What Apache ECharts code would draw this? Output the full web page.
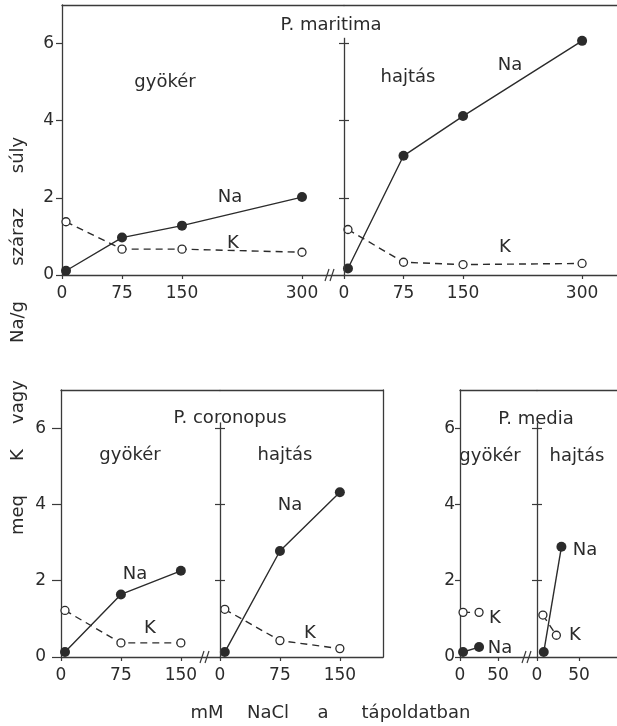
<!DOCTYPE html>
<html>
<head>
<meta charset="utf-8">
<script src="https://cdn.jsdelivr.net/npm/echarts@6/dist/echarts.min.js"></script>
<style>
  html, body { margin: 0; padding: 0; background: #fff; }
  #chart { width: 617px; height: 726px; }
</style>
</head>
<body>
<div id="chart"></div>
<script>
// P. maritima (0 - 300 mM NaCl)
var mariRootX = [5, 75, 150, 300];
var mariRootNa = [0.11, 0.97, 1.28, 2.02];
var mariRootK = [1.38, 0.67, 0.67, 0.59];
var mariShootX = [5, 75, 150, 300];
var mariShootNa = [0.17, 3.09, 4.12, 6.07];
var mariShootK = [1.18, 0.33, 0.27, 0.30];

// P. coronopus (0 - 150 mM)
var coroRootX = [5, 75, 150];
var coroRootNa = [0.13, 1.64, 2.26];
var coroRootK = [1.22, 0.37, 0.37];
var coroShootX = [6, 75, 150];
var coroShootNa = [0.13, 2.78, 4.32];
var coroShootK = [1.25, 0.43, 0.22];

// P. media (0 - 25 mM)
var mediaRootX = [4, 25];
var mediaRootNa = [0.13, 0.26];
var mediaRootK = [1.17, 1.17];
var mediaShootNaX = [8, 29];
var mediaShootNa = [0.13, 2.89];
var mediaShootKX = [7, 23];
var mediaShootK = [1.1, 0.57];

var mariTicks = [0, 75, 150, 300];
var coroTicks = [0, 75, 150];
var mediaTicks = [0, 50];
var yTicks = [0, 2, 4, 6];
var innerTicks = [2, 4, 6];

var ink = '#2b2b2b';
var axisInk = '#3a3a3a';
var font = 'DejaVu Sans';

function pairs(xs, ys) {
    var out = [];
    for (var i = 0; i < xs.length; i++) out.push([xs[i], ys[i]]);
    return out;
}

function bottomX(gi, max, ticks) {
    return {
        type: 'value', gridIndex: gi, position: 'bottom', min: 0, max: max,
        axisLine: {show: true, onZero: false, lineStyle: {color: axisInk, width: 1.3}},
        axisTick: {show: true, length: 4, customValues: ticks, lineStyle: {color: axisInk, width: 1.2}},
        axisLabel: {customValues: ticks, margin: 10, color: ink, fontSize: 17, fontFamily: font},
        splitLine: {show: false}
    };
}
function topX(gi, max) {
    return {
        type: 'value', gridIndex: gi, position: 'top', min: 0, max: max,
        axisLine: {show: true, onZero: false, lineStyle: {color: axisInk, width: 1.3}},
        axisTick: {show: false}, axisLabel: {show: false}, splitLine: {show: false}
    };
}
function leftY(gi, tickLen, margin) {
    return {
        type: 'value', gridIndex: gi, position: 'left', min: 0, max: 7,
        axisLine: {show: true, onZero: false, lineStyle: {color: axisInk, width: 1.3}},
        axisTick: {show: true, length: tickLen, customValues: yTicks, lineStyle: {color: axisInk, width: 1.2}},
        axisLabel: {customValues: yTicks, margin: margin, color: ink, fontSize: 17, fontFamily: font},
        splitLine: {show: false}
    };
}
function innerY(gi, pos) {
    return {
        type: 'value', gridIndex: gi, position: pos, min: 0, max: 7,
        axisLine: {show: false, onZero: false},
        axisTick: {show: true, length: 5, customValues: innerTicks, lineStyle: {color: axisInk, width: 1.2}},
        axisLabel: {show: false}, splitLine: {show: false}
    };
}
function rightY(gi) {
    return {
        type: 'value', gridIndex: gi, position: 'right', min: 0, max: 7,
        axisLine: {show: true, onZero: false, lineStyle: {color: axisInk, width: 1.3}},
        axisTick: {show: false}, axisLabel: {show: false}, splitLine: {show: false}
    };
}

function naSeries(gi, yi, xs, ys, withAxis) {
    var s = {
        type: 'line', xAxisIndex: gi * 2, yAxisIndex: yi, z: 4,
        data: pairs(xs, ys),
        symbol: 'circle', symbolSize: 10,
        itemStyle: {color: ink},
        lineStyle: {color: ink, width: 1.4},
        emphasis: {disabled: true}
    };
    if (withAxis) {
        // inner y axis drawn only from 0 up to just above 6
        s.markLine = {
            silent: true, symbol: 'none', label: {show: false},
            lineStyle: {type: 'solid', color: axisInk, width: 1.3},
            emphasis: {disabled: true},
            data: [[{coord: [0, 0]}, {coord: [0, 6.15]}]]
        };
    }
    return s;
}
function kSeries(gi, yi, xs, ys) {
    return {
        type: 'line', xAxisIndex: gi * 2, yAxisIndex: yi, z: 3,
        data: pairs(xs, ys),
        symbol: 'circle', symbolSize: 8,
        itemStyle: {color: '#fff', borderColor: ink, borderWidth: 1.3},
        lineStyle: {color: ink, width: 1.4, type: [7, 5]},
        emphasis: {disabled: true}
    };
}

function label(txt, x, y, size) {
    return {
        type: 'text', x: x, y: y, silent: true,
        style: {text: txt, align: 'center', verticalAlign: 'middle', fill: ink,
            fontSize: size || 18, fontFamily: font}
    };
}
function vlabel(txt, x, y) {
    return {
        type: 'text', x: x, y: y, rotation: Math.PI / 2, silent: true,
        style: {text: txt, align: 'center', verticalAlign: 'middle', fill: ink,
            fontSize: 18, fontFamily: font}
    };
}
function brk(x, y) {
    return {
        type: 'group', x: x, y: y, silent: true,
        children: [
            {type: 'line', shape: {x1: -6, y1: 6, x2: -2, y2: -6}, style: {stroke: axisInk, lineWidth: 1.2}},
            {type: 'line', shape: {x1: -1, y1: 6, x2: 3, y2: -6}, style: {stroke: axisInk, lineWidth: 1.2}}
        ]
    };
}

var chart = echarts.init(document.getElementById('chart'));

chart.setOption({
    backgroundColor: '#fff',
    animation: false,
    grid: [
        {left: 62, top: 5, width: 282, height: 270},
        {left: 344, top: 5, width: 273, height: 270},
        {left: 61, top: 390, width: 159, height: 267},
        {left: 220, top: 390, width: 163, height: 267},
        {left: 460, top: 390, width: 77, height: 267},
        {left: 537, top: 390, width: 80, height: 267}
    ],
    xAxis: [
        bottomX(0, 352.5, mariTicks), topX(0, 352.5),
        bottomX(1, 344, mariTicks), topX(1, 344),
        bottomX(2, 199, coroTicks), topX(2, 199),
        bottomX(3, 204, coroTicks), topX(3, 204),
        bottomX(4, 101, mediaTicks), topX(4, 101),
        bottomX(5, 95, mediaTicks), topX(5, 95)
    ],
    yAxis: [
        leftY(0, 6, 8), innerY(0, 'right'),
        innerY(1, 'left'),
        leftY(2, 9, 15), innerY(2, 'right'),
        innerY(3, 'left'), rightY(3),
        leftY(4, 5, 5), innerY(4, 'right'),
        innerY(5, 'left')
    ],
    series: [
        kSeries(0, 0, mariRootX, mariRootK),
        naSeries(0, 0, mariRootX, mariRootNa, false),
        kSeries(1, 2, mariShootX, mariShootK),
        naSeries(1, 2, mariShootX, mariShootNa, true),
        kSeries(2, 3, coroRootX, coroRootK),
        naSeries(2, 3, coroRootX, coroRootNa, false),
        kSeries(3, 5, coroShootX, coroShootK),
        naSeries(3, 5, coroShootX, coroShootNa, true),
        kSeries(4, 7, mediaRootX, mediaRootK),
        naSeries(4, 7, mediaRootX, mediaRootNa, false),
        kSeries(5, 9, mediaShootKX, mediaShootK),
        naSeries(5, 9, mediaShootNaX, mediaShootNa, true)
    ],
    graphic: [
        label('P. maritima', 331, 25),
        label('gyökér', 165, 82),
        label('hajtás', 408, 77),
        label('Na', 230, 197),
        label('K', 233, 243),
        label('Na', 510, 65),
        label('K', 505, 247),

        label('P. coronopus', 230, 418),
        label('gyökér', 130, 455),
        label('hajtás', 285, 455),
        label('Na', 135, 574),
        label('K', 150, 628),
        label('Na', 290, 505),
        label('K', 310, 633),

        label('P. media', 536, 419),
        label('gyökér', 490, 456),
        label('hajtás', 577, 456),
        label('K', 495, 618),
        label('Na', 500, 648),
        label('Na', 585, 550),
        label('K', 575, 635),

        label('mM', 207, 713),
        label('NaCl', 268, 713),
        label('a', 323, 713),
        label('tápoldatban', 416, 713),

        vlabel('súly', 18, 155),
        vlabel('száraz', 18, 237),
        vlabel('Na/g', 18, 322),
        vlabel('vagy', 18, 402),
        vlabel('K', 18, 455),
        vlabel('meq', 18, 515),

        brk(331, 275),
        brk(206, 657),
        brk(528, 657)
    ]
});
</script>
</body>
</html>
